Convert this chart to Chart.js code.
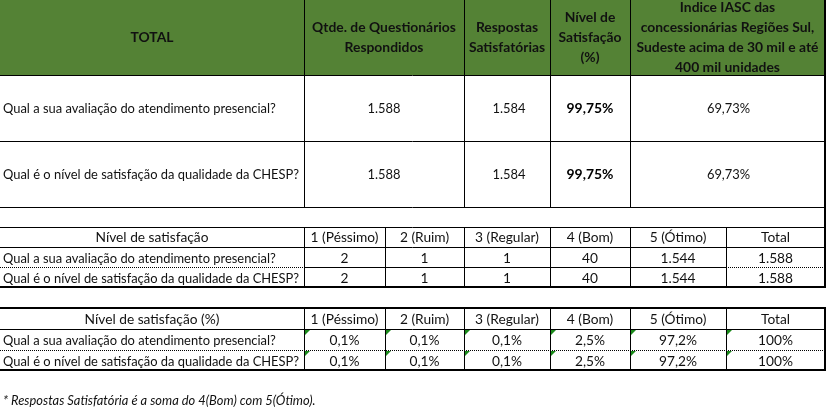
<!DOCTYPE html>
<html><head><meta charset="utf-8">
<script src="https://cdn.jsdelivr.net/npm/chart.js@4/dist/chart.umd.min.js"></script>
<style>html,body{margin:0;padding:0;background:#fff;overflow:hidden}#wrap{width:827px;height:408px}</style>
</head><body><div id="wrap"><canvas id="c" width="827" height="408"></canvas></div>
<script>
// ---- data ----
const questions = ["Qual a sua avaliação do atendimento presencial?", "Qual é o nível de satisfação da qualidade da CHESP?"];
const summaryHeaders = [["TOTAL"], ["Qtde. de Questionários", "Respondidos"], ["Respostas", "Satisfatórias"], ["Nível de", "Satisfação", "(%)"], ["Indice IASC das", "concessionárias Regiões Sul,", "Sudeste acima de 30 mil e até", "400 mil unidades"]];
const questionnairesAnswered = [1588, 1588];
const satisfactoryAnswers = [1584, 1584];
const satisfactionLevel = [99.75, 99.75];
const iascIndex = [69.73, 69.73];
const levelCategories = ["1 (Péssimo)", "2 (Ruim)", "3 (Regular)", "4 (Bom)", "5 (Ótimo)", "Total"];
const countsQ1 = [2, 1, 1, 40, 1544, 1588];
const countsQ2 = [2, 1, 1, 40, 1544, 1588];
const pctQ1 = [0.1, 0.1, 0.1, 2.5, 97.2, 100];
const pctQ2 = [0.1, 0.1, 0.1, 2.5, 97.2, 100];
const table2Title = "Nível de satisfação";
const table3Title = "Nível de satisfação (%)";
const footnote = "* Respostas Satisfatória é a soma do 4(Bom) com 5(Ótimo).";

// ---- formatting ----
function fmtInt(n){ return String(n).replace(/\B(?=(\d{3})+(?!\d))/g, "."); }
function fmtPct(v, d){ return v.toFixed(d).replace(".", ",") + "%"; }
function fmtPctAuto(v){ return fmtPct(v, Number.isInteger(v) ? 0 : 1); }

// ---- layout ----
const FAM = "Lato, 'Open Sans', sans-serif";
const t1Cols = [0, 304, 464, 550, 630, 825];
const t1Rows = [0, 75, 141, 207];
const gapRowBottom = 227;
const t2Cols = [0, 304, 385, 464, 550, 630, 726, 825];
const t2Rows = [227, 247, 267, 287];
const t3Rows = [308, 329, 350, 370];
const GREEN = "#548235";

const tablePlugin = {
  id: "tablePlugin",
  afterDraw(chart) {
    const ctx = chart.ctx;
    const X = v => chart.scales.x.getPixelForValue(v);
    const Y = v => chart.scales.y.getPixelForValue(v);
    function fitSize(text, weight, style, target) {
      ctx.font = `${style} ${weight} 20px ${FAM}`;
      return 20 * target / ctx.measureText(text).width;
    }
    const bodySize = fitSize(questions[0], "normal", "normal", 273);
    const headSize = fitSize(table2Title, "normal", "normal", 113);
    const boldHeadSize = fitSize(summaryHeaders[1][0], "bold", "normal", 144);
    const boldValSize = fitSize("99,75%", "bold", "normal", 47);
    const footSize = fitSize(footnote, "normal", "italic", 313);

    function text(t, x, y, size, opts = {}) {
      ctx.save();
      ctx.font = `${opts.style || "normal"} ${opts.weight || "normal"} ${size}px ${FAM}`;
      ctx.fillStyle = opts.color || "#111";
      ctx.textAlign = opts.align || "center";
      ctx.textBaseline = "middle";
      ctx.fillText(t, X(x), Y(y));
      ctx.restore();
    }
    function hline(x1, x2, y, w = 1, dotted = false) {
      ctx.save();
      ctx.strokeStyle = "#000";
      ctx.lineWidth = w;
      if (dotted) ctx.setLineDash([1, 1]);
      const yy = w % 2 ? Math.round(Y(y)) + 0.5 : Math.round(Y(y));
      ctx.beginPath(); ctx.moveTo(X(x1), yy); ctx.lineTo(X(x2), yy); ctx.stroke();
      ctx.restore();
    }
    function vline(x, y1, y2, w = 1) {
      ctx.save();
      ctx.strokeStyle = "#000";
      ctx.lineWidth = w;
      const xx = w % 2 ? Math.round(X(x)) + 0.5 : Math.round(X(x));
      ctx.beginPath(); ctx.moveTo(xx, Y(y1)); ctx.lineTo(xx, Y(y2)); ctx.stroke();
      ctx.restore();
    }

    // header fill
    ctx.fillStyle = GREEN;
    ctx.fillRect(X(0), Y(0), X(825) - X(0), Y(75) - Y(0));

    // ---- table 1 ----
    summaryHeaders.forEach((lines, i) => {
      const cx = (t1Cols[i] + t1Cols[i + 1]) / 2;
      const n = lines.length;
      lines.forEach((ln, j) => {
        text(ln, cx, 38 + (j - (n - 1) / 2) * 20, boldHeadSize, { weight: "bold", color: "#111" });
      });
    });
    questions.forEach((q, r) => {
      const cy = (t1Rows[r + 1] + t1Rows[r + 2]) / 2 + 1;
      text(q, 3, cy, bodySize, { align: "left" });
      text(fmtInt(questionnairesAnswered[r]), (t1Cols[1] + t1Cols[2]) / 2, cy, bodySize);
      text(fmtInt(satisfactoryAnswers[r]), (t1Cols[2] + t1Cols[3]) / 2 + 2, cy, bodySize);
      text(fmtPct(satisfactionLevel[r], 2), (t1Cols[3] + t1Cols[4]) / 2, cy, boldValSize, { weight: "bold", color: "#000" });
      text(fmtPct(iascIndex[r], 2), (t1Cols[4] + t1Cols[5]) / 2 + 1, cy, bodySize);
    });
    for (let i = 1; i < t1Rows.length; i++) hline(0, 825, t1Rows[i], 1);
    for (let i = 1; i < t1Cols.length - 1; i++) vline(t1Cols[i], 0, 207, 1);
    hline(0, 825, gapRowBottom, 1);

    // ---- table 2 ----
    const countRows = [countsQ1, countsQ2];
    text(table2Title, (t2Cols[0] + t2Cols[1]) / 2, 238, headSize);
    levelCategories.forEach((c, i) => text(c, (t2Cols[i + 1] + t2Cols[i + 2]) / 2, 238, headSize));
    countRows.forEach((vals, r) => {
      const cy = (t2Rows[r + 1] + t2Rows[r + 2]) / 2 + 1.5;
      text(questions[r], 3, cy, bodySize, { align: "left" });
      vals.forEach((v, i) => text(fmtInt(v), (t2Cols[i + 1] + t2Cols[i + 2]) / 2, cy, headSize));
    });
    hline(0, 825, t2Rows[1], 1);
    hline(0, 304, t2Rows[2], 1, true);
    hline(304, 726, t2Rows[2], 1);
    hline(726, 825, t2Rows[2], 1, true);
    hline(0, 826, t2Rows[3], 2);
    for (let i = 1; i < t2Cols.length - 1; i++) vline(t2Cols[i], t2Rows[0], t2Rows[3], 1);

    // ---- table 3 ----
    const pctRows = [pctQ1, pctQ2];
    text(table3Title, (t2Cols[0] + t2Cols[1]) / 2, 320, headSize);
    levelCategories.forEach((c, i) => text(c, (t2Cols[i + 1] + t2Cols[i + 2]) / 2, 320, headSize));
    pctRows.forEach((vals, r) => {
      const top = t3Rows[r + 1];
      const cy = (t3Rows[r + 1] + t3Rows[r + 2]) / 2 + 1.5;
      text(questions[r], 3, cy, bodySize, { align: "left" });
      vals.forEach((v, i) => {
        const x0 = t2Cols[i + 1];
        text(fmtPctAuto(v), (x0 + t2Cols[i + 2]) / 2, cy, headSize);
        ctx.fillStyle = "#1a8a1a";
        ctx.beginPath();
        ctx.moveTo(X(x0 + 1), Y(top + 1));
        ctx.lineTo(X(x0 + 6), Y(top + 1));
        ctx.lineTo(X(x0 + 1), Y(top + 6));
        ctx.closePath(); ctx.fill();
      });
    });
    hline(0, 826, t3Rows[0], 2);
    hline(0, 825, t3Rows[1], 1);
    hline(0, 825, t3Rows[2], 1, true);
    hline(0, 826, t3Rows[3], 2);
    for (let i = 1; i < t2Cols.length - 1; i++) vline(t2Cols[i], t3Rows[0], t3Rows[3], 1);

    // right border
    vline(825, 0, 288, 2);
    vline(825, 307, 371, 2);

    // footnote
    text(footnote, 3, 401, footSize, { align: "left", style: "italic", color: "#111" });
  }
};

new Chart(document.getElementById("c"), {
  type: "scatter",
  data: { datasets: [] },
  options: {
    responsive: false,
    animation: false,
    layout: { padding: 0 },
    plugins: { legend: { display: false }, tooltip: { enabled: false } },
    scales: {
      x: { type: "linear", min: 0, max: 827, display: false },
      y: { type: "linear", min: 0, max: 408, reverse: true, display: false }
    }
  },
  plugins: [tablePlugin]
});
</script>
</body></html>
